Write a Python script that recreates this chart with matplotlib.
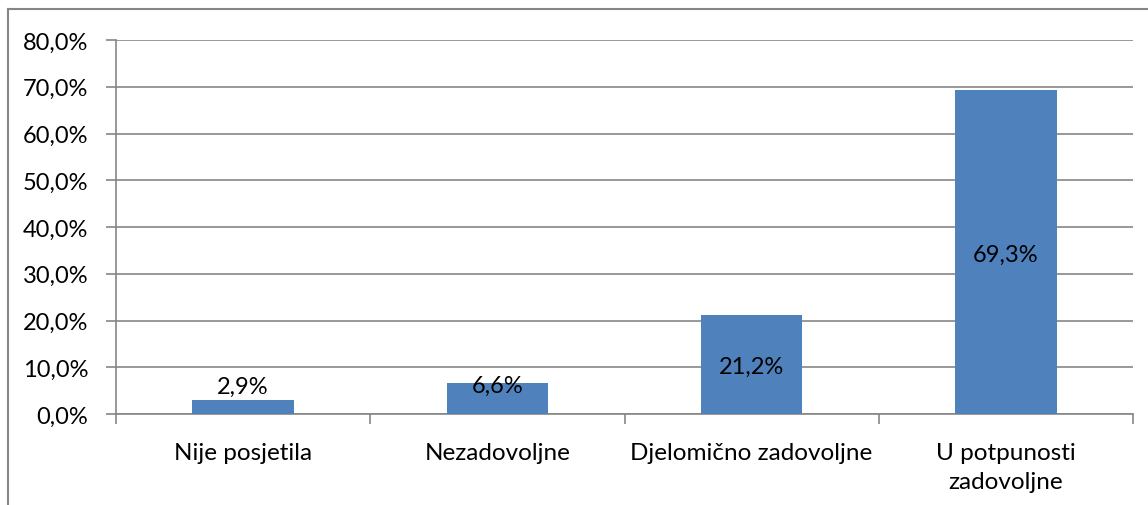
import matplotlib.pyplot as plt
from matplotlib.lines import Line2D
import numpy as np

plt.rcParams['font.family'] = ['Lato', 'DejaVu Sans']

categories = ['Nije posjetila', 'Nezadovoljne', 'Djelomično zadovoljne', 'U potpunosti\nzadovoljne']
values = [2.9, 6.6, 21.2, 69.3]
labels = ['2,9%', '6,6%', '21,2%', '69,3%']
label_y = [6.0, 6.2, 10.3, 34.2]

fig = plt.figure(figsize=(11.48, 5.06), dpi=100)
ax = fig.add_axes([116 / 1148, 1 - 415 / 506, (1133 - 116) / 1148, (415 - 41) / 506])

x = np.arange(len(categories))
ax.bar(x, values, width=0.4, color='#4F81BD', zorder=3)
for xi, ly, lab in zip(x, label_y, labels):
    ax.text(xi, ly, lab, ha='center', va='center', fontsize=17, color='black', zorder=4)

ax.set_xlim(-0.5, len(categories) - 0.5)
ax.set_ylim(0, 80)
yt = np.arange(0, 81, 10)
ax.set_yticks(yt)
ax.set_yticklabels([f'{v:.1f}%'.replace('.', ',') for v in yt], fontsize=17)
ax.yaxis.grid(True, color='#868686', linewidth=1.2, zorder=0)

ax.set_xticks(np.arange(-0.5, len(categories)), minor=False)
ax.set_xticklabels([])
ax.set_xticks(x, minor=True)
ax.set_xticklabels(categories, minor=True, fontsize=17.5, linespacing=1.5)
ax.tick_params(axis='x', which='minor', length=0, pad=20)
ax.tick_params(axis='x', which='major', length=7, color='#868686', width=1.2)
ax.tick_params(axis='y', length=7, color='#868686', width=1.2, pad=13)

for s in ['top', 'right']:
    ax.spines[s].set_visible(False)
for s in ['left', 'bottom']:
    ax.spines[s].set_color('#868686')
    ax.spines[s].set_linewidth(1.2)

# outer chart frame (only top and left visible)
fig.add_artist(Line2D([8 / 1148, 1], [1 - 10 / 506, 1 - 10 / 506], color='#868686', lw=1.5))
fig.add_artist(Line2D([8 / 1148, 8 / 1148], [0, 1 - 10 / 506], color='#868686', lw=1.5))

fig.savefig('out.png', dpi=100)
